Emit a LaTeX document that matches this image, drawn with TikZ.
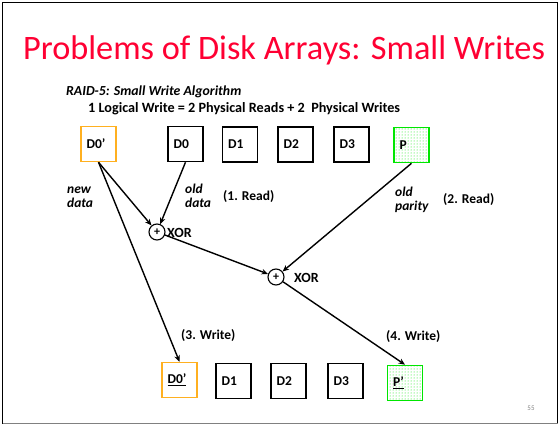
\documentclass[tikz,border=0pt]{standalone}
\usepackage{fontspec}
\setmainfont{Carlito}
\usetikzlibrary{arrows.meta,patterns}

\definecolor{titlered}{RGB}{255,0,51}
\definecolor{diskorange}{RGB}{255,176,32}
\definecolor{paritygreen}{RGB}{0,230,0}

\tikzset{
  disk/.style={draw, line width=1.5pt, minimum height=35pt, text width=24pt,
    inner xsep=5.5pt, inner ysep=0pt, align=left,
    font=\fontsize{13.5}{14}\selectfont\bfseries},
  newdisk/.style={disk, draw=diskorange},
  paritydisk/.style={disk, draw=paritygreen, line width=1.6pt,
    pattern=dots, pattern color=paritygreen},
  xorgate/.style={draw, circle, line width=1.1pt, minimum size=16pt,
    inner sep=0pt, font=\fontsize{12}{12}\selectfont\bfseries},
  flow/.style={-{Stealth[length=6.5pt,width=5.5pt]}, line width=1.4pt},
  lbl/.style={anchor=west, inner sep=0pt, align=left,
    font=\fontsize{13.5}{14}\selectfont\bfseries},
  note/.style={lbl, font=\fontsize{13.5}{14}\selectfont\bfseries\itshape},
}

\begin{document}
\begin{tikzpicture}[x=1pt,y=-1pt]

  \useasboundingbox (0,0) rectangle (560,426);

  % Slide frame
  \draw[line width=1.4pt] (2.5,423.5) -- (2.5,2.5) -- (557.5,2.5) -- (557.5,423.5);
  \draw[line width=1.4pt,gray] (2.5,423.5) -- (557.5,423.5);

  % Title and headings
  \node[anchor=base, inner sep=0pt, text=titlered, font=\fontsize{34.3}{40}\selectfont]
    (title) at (284,59) {Problems of Disk Arrays: Small Writes};
  \node[note, anchor=base west, font=\fontsize{13.8}{14}\selectfont\bfseries\itshape]
    (algo) at (66,95) {RAID-5: Small Write Algorithm};
  \node[lbl, anchor=base west, font=\fontsize{14.2}{15}\selectfont\bfseries]
    (rule) at (88,112) {1 Logical Write = 2 Physical Reads + 2\ \ Physical Writes};

  % Disks before the write
  \node[newdisk] (d0new) at (98.5,144) {D0'};
  \node[disk] (d0old) at (185.5,144) {D0};
  \foreach \i/\xx in {1/240,2/295.5,3/351.5}
    \node[disk] (d\i) at (\xx,144.5) {D\i};
  \node[paritydisk] (par) at (411.5,145) {P};

  % Disks after the write
  \node[newdisk] (d0w) at (179.5,380) {\underline{D0'}};
  \foreach \i/\xx in {1/233.5,2/288.5,3/345.5}
    \node[disk] (d\i w) at (\xx,381) {D\i};
  \node[paritydisk] (parw) at (405,383) {\underline{P'}};

  % XOR gates
  \node[xorgate] (x1) at (157,232) {+};
  \node[xorgate] (x2) at (276,277) {+};
  \node[lbl, font=\fontsize{14}{15}\selectfont\bfseries] (x1lbl) at (167,233) {XOR};
  \node[lbl, font=\fontsize{14}{15}\selectfont\bfseries] (x2lbl) at (294,278) {XOR};

  % Data flow
  \draw[flow] (d0new.south) -- (x1);
  \draw[flow] (d0old.south) -- (x1);
  \draw[flow] (d0new.south) -- (d0w.north);
  \draw[flow] (x1) -- (x2);
  \draw[flow] (par.south) -- (x2);
  \draw[flow] (x2) -- (parw.north);

  % Step labels
  \node[note] (newdata) at (67,197) {new\\data};
  \node[note] (olddata) at (185,196) {old\\data};
  \node[lbl] (read1) at (223,197) {(1. Read)};
  \node[note] (oldpar) at (395,200) {old\\parity};
  \node[lbl] (read2) at (443,200) {(2. Read)};
  \node[lbl] (write3) at (181,336) {(3. Write)};
  \node[lbl] (write4) at (386,337) {(4. Write)};

  % Page number
  \node[text=gray, font=\fontsize{7}{8}\selectfont] (pgno) at (531,408) {55};

\end{tikzpicture}
\end{document}
